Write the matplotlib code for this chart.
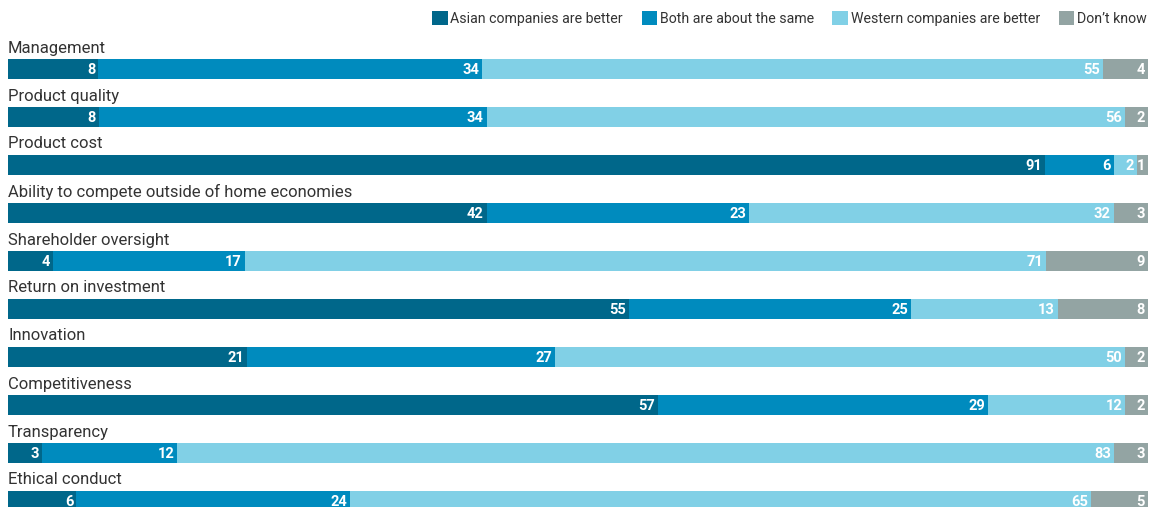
import numpy as np
import matplotlib.pyplot as plt

plt.rcParams['font.family'] = ['Roboto', 'DejaVu Sans']

categories = [
    'Management', 'Product quality', 'Product cost',
    'Ability to compete outside of home economies', 'Shareholder oversight',
    'Return on investment', 'Innovation', 'Competitiveness',
    'Transparency', 'Ethical conduct',
]
series_names = ['Asian companies are better', 'Both are about the same',
                'Western companies are better', 'Don\u2019t know']
asian = [8, 8, 91, 42, 4, 55, 21, 57, 3, 6]
same = [34, 34, 6, 23, 17, 25, 27, 29, 12, 24]
western = [55, 56, 2, 32, 71, 13, 50, 12, 83, 65]
dont_know = [4, 2, 1, 3, 9, 8, 2, 2, 3, 5]

colors = ['#00678a', '#008bbe', '#81d0e6', '#93a4a3']

W, H = 1151, 507
fig = plt.figure(figsize=(W / 100, H / 100), dpi=100)
ax = fig.add_axes([8 / W, 0, 1140 / W, 1])
ax.set_xlim(0, 1)
ax.set_ylim(H, 0)
ax.axis('off')

data = np.array([asian, same, western, dont_know], dtype=float)
totals = data.sum(axis=0)
shares = data / totals

bar_y = 69 + 48 * np.arange(len(categories))
left = np.zeros(len(categories))
handles = []
for k in range(4):
    h = ax.barh(bar_y, shares[k], left=left, height=20, color=colors[k],
                label=series_names[k], linewidth=0)
    handles.append(h)
    for i in range(len(categories)):
        end = left[i] + shares[k][i]
        ax.text(end - 3 / 1140, bar_y[i] + 0.5, f'{int(data[k][i])}', color='white',
                fontsize=10.5, fontweight='bold', ha='right', va='center')
    left += shares[k]

for i, cat in enumerate(categories):
    ax.text(0, bar_y[i] - 21, cat, fontsize=12, color='#333333',
            ha='left', va='center')

fig.legend(handles=handles, labels=series_names, loc='upper right',
           bbox_to_anchor=(1.0, 1.0 - 7 / H), ncol=4, frameon=False, fontsize=10.2,
           handlelength=1.1, handleheight=1.1, handletextpad=0.2,
           columnspacing=1.3, borderaxespad=0.0, borderpad=0.3,
           labelcolor='#333333')

fig.savefig('out.png', dpi=100)
